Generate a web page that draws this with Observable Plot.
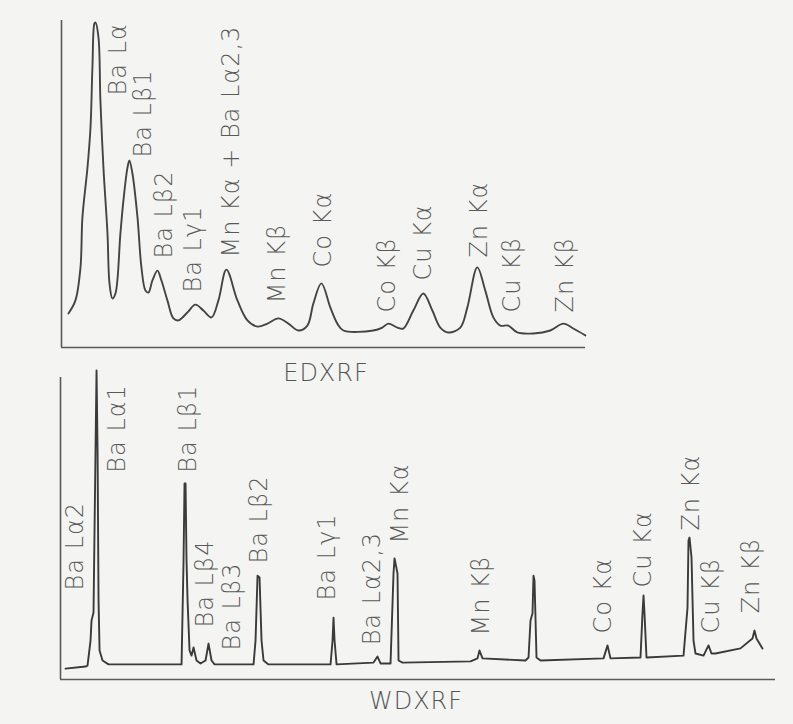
<!DOCTYPE html>
<html>
<head>
<meta charset="utf-8">
<script src="https://cdn.jsdelivr.net/npm/d3@7"></script>
<script src="https://cdn.jsdelivr.net/npm/@observablehq/plot@0.6"></script>
<style>
  html, body { margin: 0; padding: 0; background: #f4f4f2; }
  #root { position: relative; width: 793px; height: 724px; overflow: hidden; font-family: "DejaVu Sans", sans-serif; }
  #root svg text { letter-spacing: 1px; }
  .panel { position: absolute; left: 0; }
  .cap { position: absolute; font-size: 24px; line-height: 24px; font-weight: 300; letter-spacing: 1px; color: #555; transform: translateX(-50%); white-space: nowrap; }
</style>
</head>
<body>
<div id="root"></div>
<script>
// ---------- EDXRF (x: energy, keV; y: relative intensity) ----------
const edxrfDomainX = [4.10, 9.81];
const edxrfDomainY = [0, 100];
const edxrfEnergy = [4.176,4.252,4.307,4.328,4.383,4.416,4.437,4.459,4.470,4.503,4.524,4.557,4.601,4.623,4.655,4.688,4.742,4.775,4.819,4.840,4.873,4.928,4.971,5.015,5.047,5.091,5.145,5.189,5.254,5.320,5.374,5.472,5.559,5.646,5.734,5.810,5.897,6.017,6.126,6.235,6.344,6.463,6.572,6.681,6.779,6.845,6.932,7.030,7.106,7.172,7.498,7.596,7.662,7.760,7.825,7.934,8.043,8.141,8.228,8.315,8.446,8.522,8.631,8.718,8.806,8.882,8.969,9.067,9.241,9.426,9.569,9.677,9.808];
const edxrfIntensity = [10.4,14.4,24.5,39.8,55.0,67.3,85.6,99.1,99.4,94.8,75.5,55.0,34.9,19.6,15.0,16.5,34.9,45.0,55.0,57.2,53.2,39.8,24.5,17.4,16.8,20.5,23.5,20.5,14.4,8.9,8.3,10.7,13.1,11.3,9.2,14.4,23.8,14.4,8.3,6.4,7.3,8.9,7.3,5.2,6.7,13.5,19.6,12.2,7.3,5.2,5.2,6.1,7.3,6.1,5.8,11.3,16.5,11.3,6.1,4.6,6.1,12.2,24.5,17.4,9.2,6.7,6.7,4.6,4.3,5.2,7.3,5.8,3.7];
const edxrfLabels = ["Ba Lα","Ba Lβ1","Ba Lβ2","Ba Lγ1","Mn Kα + Ba Lα2,3","Mn Kβ","Co Kα","Co Kβ","Cu Kα","Zn Kα","Cu Kβ","Zn Kβ"];
const edxrfLabelX = [4.721,4.993,5.222,5.538,5.951,6.453,6.954,7.651,8.043,8.653,9.012,9.590];
const edxrfLabelY = [77.1,58.1,27.2,16.8,27.5,13.5,24.5,10.7,20.5,27.5,10.7,10.7];

// ---------- WDXRF (x: wavelength, Å, decreasing; y: relative intensity) ----------
const wdxrfDomainX = [2.857, 1.248];
const wdxrfDomainY = [0, 100];
const wdxrfWavelength = [2.8457,2.8007,2.7962,2.7894,2.7872,2.7827,2.7782,2.7759,2.7736,2.7714,2.7691,2.7624,2.7489,2.5846,2.5801,2.5779,2.5756,2.5734,2.5711,2.5666,2.5621,2.5576,2.5509,2.5419,2.5306,2.5239,2.5171,2.5104,2.4226,2.4181,2.4136,2.4091,2.4046,2.4001,2.3889,2.2493,2.2448,2.2426,2.2403,2.2358,2.1526,2.1436,2.1368,2.1143,2.1076,2.1053,2.0986,2.0963,2.0873,1.9343,1.9186,1.9141,1.9073,1.8106,1.8038,1.7993,1.7948,1.7926,1.7903,1.7858,1.7768,1.6350,1.6260,1.6193,1.5518,1.5473,1.5450,1.5428,1.5383,1.4550,1.4460,1.4438,1.4415,1.4370,1.4325,1.4280,1.4100,1.3988,1.3920,1.3830,1.3268,1.2998,1.2953,1.2908,1.2773];
const wdxrfIntensity = [3.6,4.3,4.6,12.9,19.5,22.2,75.8,102.3,75.8,26.2,9.6,6.3,5.0,5.0,39.4,64.9,64.9,39.4,26.2,9.6,7.9,10.6,6.3,5.3,6.3,11.9,6.3,5.0,5.0,12.9,34.4,33.8,12.9,6.3,5.0,5.0,12.9,20.5,12.9,5.0,5.6,7.6,5.3,5.3,35.1,40.1,35.1,6.3,5.6,6.0,7.0,9.6,7.0,6.3,7.3,19.5,21.9,34.4,32.8,7.3,6.3,7.0,11.3,7.0,7.3,21.9,27.8,21.9,7.3,7.9,23.8,46.0,47.0,40.4,12.9,8.6,7.9,11.3,8.6,8.6,10.3,13.6,16.2,13.6,10.3];
const wdxrfLabels = ["Ba Lα2","Ba Lα1","Ba Lβ1","Ba Lβ4","Ba Lβ3","Ba Lβ2","Ba Lγ1","Ba Lα2,3","Mn Kα","Mn Kβ","Co Kα","Cu Kα","Zn Kα","Cu Kβ","Zn Kβ"];
const wdxrfLabelX = [2.8232,2.7286,2.5689,2.5306,2.4699,2.4091,2.2561,2.1548,2.0918,1.9096,1.6350,1.5450,1.4370,1.3920,1.3020];
const wdxrfLabelY = [29.5,68.5,68.5,17.2,9.6,38.4,26.2,11.3,45.0,14.6,15.2,30.5,49.3,15.2,21.9];

const captions = ["EDXRF", "WDXRF"];

const edxrf = edxrfEnergy.map((x, i) => ({x, y: edxrfIntensity[i]}));
const edLab = edxrfLabels.map((t, i) => ({t, x: edxrfLabelX[i], y: edxrfLabelY[i]}));
const wdxrf = wdxrfWavelength.map((x, i) => ({x, y: wdxrfIntensity[i]}));
const wdLab = wdxrfLabels.map((t, i) => ({t, x: wdxrfLabelX[i], y: wdxrfLabelY[i]}));

const FONT = "'DejaVu Sans', sans-serif";
const AX = "#5a5a5a";
const TXT = "#595959";

const topPanel = Plot.plot({
  width: 793, height: 357,
  marginLeft: 61, marginRight: 208, marginTop: 20, marginBottom: 10,
  style: {background: "transparent", fontFamily: FONT, overflow: "visible"},
  x: {domain: edxrfDomainX, axis: null},
  y: {domain: edxrfDomainY, axis: null},
  marks: [
    Plot.ruleX([edxrfDomainX[0]], {y1: edxrfDomainY[0], y2: edxrfDomainY[1], stroke: AX, strokeWidth: 1.6}),
    Plot.ruleY([edxrfDomainY[0]], {x1: edxrfDomainX[0], x2: edxrfDomainX[1], stroke: AX, strokeWidth: 1.6}),
    Plot.line(edxrf, {x: "x", y: "y", curve: "catmull-rom", stroke: "#444", strokeWidth: 1.9}),
    Plot.text(edLab, {x: "x", y: "y", text: "t", rotate: -90, textAnchor: "start", fontSize: 24, fontWeight: 300, fill: TXT})
  ]
});
topPanel.classList.add("panel");
topPanel.style.top = "0px";

const bottomPanel = Plot.plot({
  width: 793, height: 364,
  marginLeft: 60, marginRight: 18, marginTop: 17, marginBottom: 45,
  style: {background: "transparent", fontFamily: FONT, overflow: "visible"},
  x: {domain: wdxrfDomainX, axis: null},
  y: {domain: wdxrfDomainY, axis: null},
  marks: [
    Plot.ruleX([wdxrfDomainX[0]], {y1: wdxrfDomainY[0], y2: wdxrfDomainY[1], stroke: AX, strokeWidth: 1.6}),
    Plot.ruleY([wdxrfDomainY[0]], {x1: wdxrfDomainX[0], x2: wdxrfDomainX[1], stroke: AX, strokeWidth: 1.6}),
    Plot.line(wdxrf, {x: "x", y: "y", stroke: "#3a3a3a", strokeWidth: 1.9}),
    Plot.text(wdLab, {x: "x", y: "y", text: "t", rotate: -90, textAnchor: "start", fontSize: 24, fontWeight: 300, fill: TXT})
  ]
});
bottomPanel.classList.add("panel");
bottomPanel.style.top = "360px";

const root = document.getElementById("root");
root.appendChild(topPanel);
root.appendChild(bottomPanel);

const c1 = document.createElement("div");
c1.className = "cap"; c1.textContent = captions[0];
c1.style.left = "326px"; c1.style.top = "361px";
const c2 = document.createElement("div");
c2.className = "cap"; c2.textContent = captions[1];
c2.style.left = "416px"; c2.style.top = "689px";
root.appendChild(c1);
root.appendChild(c2);
</script>
</body>
</html>
